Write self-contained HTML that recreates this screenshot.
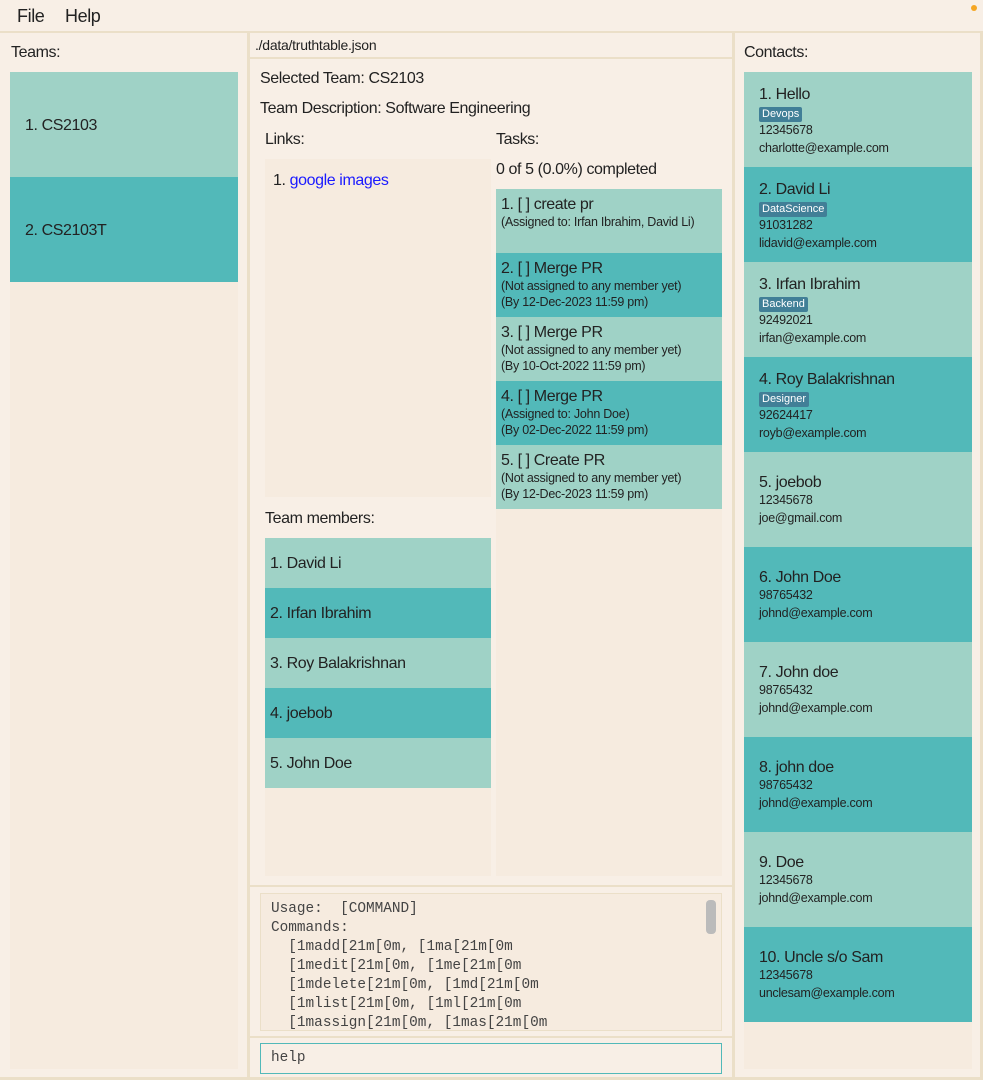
<!DOCTYPE html>
<html><head><meta charset="utf-8"><style>
*{margin:0;padding:0;box-sizing:border-box}
body{width:983px;height:1080px;background:#f8efe6;font-family:"Liberation Sans",sans-serif;color:#222;position:relative;overflow:hidden}
.a{position:absolute}
.l{background:#9fd2c6}.d{background:#52b9b9}
.in{background:#f6ebdf}
.ln{background:#ebdfc8}
.t{font-size:16px;white-space:nowrap;letter-spacing:-0.4px}
.s{font-size:12.5px;white-space:nowrap;letter-spacing:-0.25px;line-height:16px}
.tag{display:inline-block;background:#417f97;color:#fff;font-size:11px;padding:1px 3px;border-radius:2px;line-height:13px}
.mono{font-family:"Liberation Mono",monospace;font-size:14.4px;color:#444;white-space:pre;line-height:19px}
</style></head><body>
<div class="a t" style="left:17px;top:6px;font-size:18px">File</div>
<div class="a t" style="left:65px;top:6px;font-size:18px">Help</div>
<div class="a" style="left:971px;top:5px;width:6px;height:6px;border-radius:50%;background:#f5a623"></div>
<div class="a ln" style="left:0;top:31px;width:983px;height:2px"></div>
<div class="a ln" style="left:247px;top:31px;width:3px;height:1049px"></div>
<div class="a ln" style="left:732px;top:31px;width:3px;height:1049px"></div>
<div class="a ln" style="left:0;top:1077px;width:983px;height:3px"></div>
<div class="a ln" style="left:980px;top:31px;width:3px;height:1049px"></div>
<!-- Left -->
<div class="a t" style="left:11px;top:44px">Teams:</div>
<div class="a in" style="left:10px;top:72px;width:228px;height:997px"></div>
<div class="a l" style="left:10px;top:72px;width:228px;height:105px"></div>
<div class="a t" style="left:25px;top:117px">1. CS2103</div>
<div class="a d" style="left:10px;top:177px;width:228px;height:105px"></div>
<div class="a t" style="left:25px;top:222px">2. CS2103T</div>
<!-- Middle -->
<div class="a s" style="left:255px;top:37px;font-size:14px">./data/truthtable.json</div>
<div class="a ln" style="left:250px;top:57px;width:482px;height:2px"></div>
<div class="a t" style="left:260px;top:70px">Selected Team: CS2103</div>
<div class="a t" style="left:260px;top:100px">Team Description: Software Engineering</div>
<div class="a t" style="left:265px;top:131px">Links:</div>
<div class="a in" style="left:265px;top:159px;width:226px;height:338px"></div>
<div class="a t" style="left:273px;top:172px">1. <span style="color:#1a1aff">google images</span></div>
<div class="a t" style="left:265px;top:510px">Team members:</div>
<div class="a in" style="left:265px;top:538px;width:226px;height:338px"></div>
<div class="a l" style="left:265px;top:538px;width:226px;height:50px"></div>
<div class="a t" style="left:270px;top:555px">1. David Li</div>
<div class="a d" style="left:265px;top:588px;width:226px;height:50px"></div>
<div class="a t" style="left:270px;top:605px">2. Irfan Ibrahim</div>
<div class="a l" style="left:265px;top:638px;width:226px;height:50px"></div>
<div class="a t" style="left:270px;top:655px">3. Roy Balakrishnan</div>
<div class="a d" style="left:265px;top:688px;width:226px;height:50px"></div>
<div class="a t" style="left:270px;top:705px">4. joebob</div>
<div class="a l" style="left:265px;top:738px;width:226px;height:50px"></div>
<div class="a t" style="left:270px;top:755px">5. John Doe</div>
<div class="a t" style="left:496px;top:131px">Tasks:</div>
<div class="a t" style="left:496px;top:161px">0 of 5 (0.0%) completed</div>
<div class="a in" style="left:496px;top:189px;width:226px;height:687px"></div>
<div class="a l" style="left:496px;top:189px;width:226px;height:64px"></div>
<div class="a t" style="left:501px;top:196px">1. [ ] create pr</div>
<div class="a s" style="left:501px;top:214px">(Assigned to: Irfan Ibrahim, David Li)</div>
<div class="a d" style="left:496px;top:253px;width:226px;height:64px"></div>
<div class="a t" style="left:501px;top:260px">2. [ ] Merge PR</div>
<div class="a s" style="left:501px;top:278px">(Not assigned to any member yet)<br>(By 12-Dec-2023 11:59 pm)</div>
<div class="a l" style="left:496px;top:317px;width:226px;height:64px"></div>
<div class="a t" style="left:501px;top:324px">3. [ ] Merge PR</div>
<div class="a s" style="left:501px;top:342px">(Not assigned to any member yet)<br>(By 10-Oct-2022 11:59 pm)</div>
<div class="a d" style="left:496px;top:381px;width:226px;height:64px"></div>
<div class="a t" style="left:501px;top:388px">4. [ ] Merge PR</div>
<div class="a s" style="left:501px;top:406px">(Assigned to: John Doe)<br>(By 02-Dec-2022 11:59 pm)</div>
<div class="a l" style="left:496px;top:445px;width:226px;height:64px"></div>
<div class="a t" style="left:501px;top:452px">5. [ ] Create PR</div>
<div class="a s" style="left:501px;top:470px">(Not assigned to any member yet)<br>(By 12-Dec-2023 11:59 pm)</div>
<div class="a ln" style="left:250px;top:885px;width:482px;height:2px"></div>
<div class="a in" style="left:260px;top:893px;width:462px;height:138px;border:1px solid #ebdfc8;overflow:hidden">
<div class="mono" style="position:absolute;left:10px;top:6px">Usage:  [COMMAND]
Commands:
  [1madd[21m[0m, [1ma[21m[0m
  [1medit[21m[0m, [1me[21m[0m
  [1mdelete[21m[0m, [1md[21m[0m
  [1mlist[21m[0m, [1ml[21m[0m
  [1massign[21m[0m, [1mas[21m[0m</div>
<div style="position:absolute;left:445px;top:6px;width:10px;height:34px;background:#bbb;border-radius:4px"></div>
</div>
<div class="a ln" style="left:250px;top:1036px;width:482px;height:2px"></div>
<div class="a" style="left:260px;top:1043px;width:462px;height:31px;border:1px solid #52b9b9;background:#f8efe6"></div>
<div class="a mono" style="left:271px;top:1049px;font-size:14.4px">help</div>
<!-- Right -->
<div class="a t" style="left:744px;top:44px">Contacts:</div>
<div class="a in" style="left:744px;top:72px;width:228px;height:997px"></div>
<div class="a l" style="left:744px;top:72px;width:228px;height:95px"></div>
<div class="a" style="left:759px;top:86px"><div class="t">1. Hello</div><div class="tag">Devops</div><div class="s">12345678</div><div class="s" style="margin-top:2px">charlotte@example.com</div></div>
<div class="a d" style="left:744px;top:167px;width:228px;height:95px"></div>
<div class="a" style="left:759px;top:181px"><div class="t">2. David Li</div><div class="tag">DataScience</div><div class="s">91031282</div><div class="s" style="margin-top:2px">lidavid@example.com</div></div>
<div class="a l" style="left:744px;top:262px;width:228px;height:95px"></div>
<div class="a" style="left:759px;top:276px"><div class="t">3. Irfan Ibrahim</div><div class="tag">Backend</div><div class="s">92492021</div><div class="s" style="margin-top:2px">irfan@example.com</div></div>
<div class="a d" style="left:744px;top:357px;width:228px;height:95px"></div>
<div class="a" style="left:759px;top:371px"><div class="t">4. Roy Balakrishnan</div><div class="tag">Designer</div><div class="s">92624417</div><div class="s" style="margin-top:2px">royb@example.com</div></div>
<div class="a l" style="left:744px;top:452px;width:228px;height:95px"></div>
<div class="a" style="left:759px;top:474px"><div class="t">5. joebob</div><div class="s">12345678</div><div class="s" style="margin-top:2px">joe@gmail.com</div></div>
<div class="a d" style="left:744px;top:547px;width:228px;height:95px"></div>
<div class="a" style="left:759px;top:569px"><div class="t">6. John Doe</div><div class="s">98765432</div><div class="s" style="margin-top:2px">johnd@example.com</div></div>
<div class="a l" style="left:744px;top:642px;width:228px;height:95px"></div>
<div class="a" style="left:759px;top:664px"><div class="t">7. John doe</div><div class="s">98765432</div><div class="s" style="margin-top:2px">johnd@example.com</div></div>
<div class="a d" style="left:744px;top:737px;width:228px;height:95px"></div>
<div class="a" style="left:759px;top:759px"><div class="t">8. john doe</div><div class="s">98765432</div><div class="s" style="margin-top:2px">johnd@example.com</div></div>
<div class="a l" style="left:744px;top:832px;width:228px;height:95px"></div>
<div class="a" style="left:759px;top:854px"><div class="t">9. Doe</div><div class="s">12345678</div><div class="s" style="margin-top:2px">johnd@example.com</div></div>
<div class="a d" style="left:744px;top:927px;width:228px;height:95px"></div>
<div class="a" style="left:759px;top:949px"><div class="t">10. Uncle s/o Sam</div><div class="s">12345678</div><div class="s" style="margin-top:2px">unclesam@example.com</div></div>
</body></html>
